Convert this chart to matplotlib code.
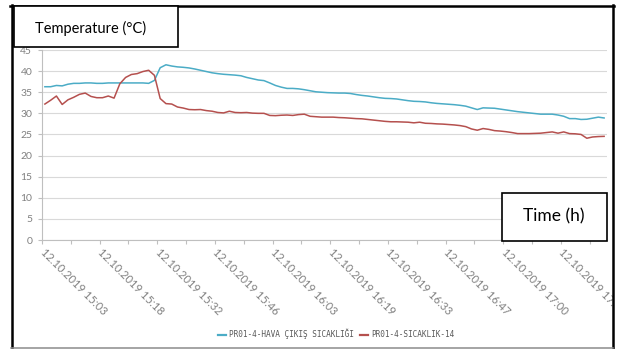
import matplotlib
matplotlib.use("Agg")
import matplotlib.pyplot as plt
from matplotlib.patches import Rectangle
from matplotlib.lines import Line2D
import numpy as np

# ---------------- data ----------------
series_names = ["PR01-4-HAVA ÇIKIŞ SICAKLIĞI", "PR01-4-SICAKLIK-14"]

hava_cikis = [
    36.3, 36.3, 36.6, 36.5, 36.9, 37.1, 37.1, 37.2, 37.2, 37.1,
    37.1, 37.2, 37.2, 37.2, 37.2, 37.2, 37.2, 37.2, 37.1, 37.8,
    40.8, 41.5, 41.2, 41.0, 40.9, 40.75, 40.5, 40.2, 39.9, 39.6,
    39.4, 39.25, 39.15, 39.05, 38.9, 38.5, 38.2, 37.9, 37.75, 37.2,
    36.6, 36.2, 35.9, 35.9, 35.8, 35.6, 35.35, 35.1, 35.0, 34.9,
    34.85, 34.8, 34.8, 34.7, 34.45, 34.25, 34.1, 33.9, 33.7, 33.55,
    33.5, 33.4, 33.2, 33.0, 32.85, 32.8, 32.7, 32.5, 32.35, 32.25,
    32.15, 32.05, 31.9, 31.7, 31.3, 30.9, 31.3, 31.25, 31.2, 31.0,
    30.8, 30.6, 30.4, 30.25, 30.1, 29.95, 29.8, 29.8, 29.8, 29.6,
    29.3, 28.75, 28.75, 28.55, 28.6, 28.85, 29.1, 28.9,
]

sicaklik_14 = [
    32.2, 33.1, 34.1, 32.1, 33.2, 33.8, 34.5, 34.8, 34.0, 33.7,
    33.7, 34.1, 33.6, 37.0, 38.5, 39.2, 39.4, 39.9, 40.2, 39.0,
    33.5, 32.3, 32.2, 31.5, 31.25, 30.9, 30.85, 30.9, 30.65, 30.5,
    30.2, 30.1, 30.5, 30.2, 30.15, 30.2, 30.05, 30.0, 30.0, 29.5,
    29.45, 29.55, 29.6, 29.5, 29.7, 29.8, 29.3, 29.2, 29.1, 29.1,
    29.1, 29.0, 28.95, 28.85, 28.75, 28.7, 28.55, 28.4, 28.25, 28.1,
    28.0, 28.0, 27.95, 27.9, 27.75, 27.9, 27.65, 27.6, 27.5, 27.45,
    27.35, 27.25, 27.1, 26.85, 26.3, 26.0, 26.4, 26.2, 25.9, 25.8,
    25.65, 25.45, 25.2, 25.2, 25.2, 25.25, 25.3, 25.45, 25.6, 25.3,
    25.6, 25.2, 25.15, 25.0, 24.1, 24.4, 24.5, 24.55,
]

time_labels = [
    "12.10.2019 15:03", "12.10.2019 15:18", "12.10.2019 15:32",
    "12.10.2019 15:46", "12.10.2019 16:03", "12.10.2019 16:19",
    "12.10.2019 16:33", "12.10.2019 16:47", "12.10.2019 17:00",
    "12.10.2019 17:14",
]
label_every = 10
y_ticks = [0, 5, 10, 15, 20, 25, 30, 35, 40, 45]

y_title = "Temperature (°C)"
x_title = "Time (h)"

# ---------------- layout ----------------
W, H = 617, 349
fig = plt.figure(figsize=(W / 100, H / 100), dpi=100)
fig.patch.set_facecolor("white")


def fx(x):
    return x / W


def fy(y):
    return 1 - y / H


GRAY_TXT = "#808080"
AX_GRAY = "#bfbfbf"

ax = fig.add_axes([fx(42), fy(240), fx(607) - fx(42), fy(50) - fy(240)])
n = len(hava_cikis)
idx = np.arange(n)
ax.plot(idx, hava_cikis, color="#4bacc6", lw=1.1, label=series_names[0], zorder=3)
ax.plot(idx, sicaklik_14, color="#b5504e", lw=1.1, label=series_names[1], zorder=3)

ax.set_xlim(-0.5, n - 0.5)
ax.set_ylim(0, 45)
ax.set_yticks(y_ticks)
ax.set_yticklabels([str(v) for v in y_ticks])

major_pos = np.arange(len(time_labels)) * label_every - 0.5
ax.set_xticks(major_pos, labels=time_labels)
ax.set_xticks(np.arange(len(time_labels)) * label_every + 4.5, minor=True)

for lab in ax.get_xticklabels():
    lab.set_rotation(-45)
    lab.set_ha("left")
    lab.set_va("center")
    lab.set_rotation_mode("anchor")

ax.tick_params(axis="x", which="both", length=3, width=0.8, color=AX_GRAY,
               labelsize=8, labelcolor=GRAY_TXT, pad=4.5)
ax.tick_params(axis="y", length=3, width=0.8, color=AX_GRAY,
               labelsize=7.5, labelcolor=GRAY_TXT, pad=4)
for lab in ax.get_xticklabels() + ax.get_yticklabels():
    lab.set_fontfamily("Lato")

ax.yaxis.grid(True, color="#d9d9d9", lw=0.8)
ax.set_axisbelow(True)
for s in ("top", "right"):
    ax.spines[s].set_visible(False)
for s in ("left", "bottom"):
    ax.spines[s].set_color(AX_GRAY)
    ax.spines[s].set_linewidth(0.8)

# legend
leg = fig.legend(loc="center", bbox_to_anchor=(fx(336), fy(334)), ncol=2,
                 frameon=False,
                 prop={"family": "DejaVu Sans Mono", "size": 5.6},
                 handlelength=1.05, handletextpad=0.45, columnspacing=0.7)
for t in leg.get_texts():
    t.set_color("#595959")
for h in leg.get_lines():
    h.set_linewidth(1.6)

# white overlay to cut the label at the frame
fig.add_artist(Rectangle((fx(613), 0), 1 - fx(613), 1, transform=fig.transFigure,
                         facecolor="white", edgecolor="none", zorder=8))

# outer frame
tf = fig.transFigure
fig.add_artist(Line2D([fx(11.5), fx(11.5)], [fy(5), fy(348)], transform=tf,
                      color="black", lw=1.8, zorder=9))
fig.add_artist(Line2D([fx(10.5), fx(613.5)], [fy(5.5), fy(5.5)], transform=tf,
                      color="black", lw=1.8, zorder=9))
fig.add_artist(Line2D([fx(613), fx(613)], [fy(5), fy(348)], transform=tf,
                      color="black", lw=1.8, zorder=9))
fig.add_artist(Line2D([fx(11), fx(613)], [fy(348), fy(348)], transform=tf,
                      color="#8c8c8c", lw=1.1, zorder=9))

# annotation boxes
fig.add_artist(Rectangle((fx(14), fy(47)), fx(178) - fx(14), fy(6) - fy(47),
                         transform=tf, facecolor="white", edgecolor="black",
                         lw=1.2, zorder=10))
fig.text(fx(90.5), fy(28), y_title, ha="center", va="center", fontsize=10.5,
         family="Lato", color="black", zorder=11)

fig.add_artist(Rectangle((fx(502), fy(241)), fx(607) - fx(502), fy(193) - fy(241),
                         transform=tf, facecolor="white", edgecolor="black",
                         lw=1.2, zorder=10))
fig.text(fx(554), fy(216.5), x_title, ha="center", va="center", fontsize=12.5,
         family="Lato", color="black", zorder=11)

fig.savefig("out.png", dpi=100, facecolor="white")
